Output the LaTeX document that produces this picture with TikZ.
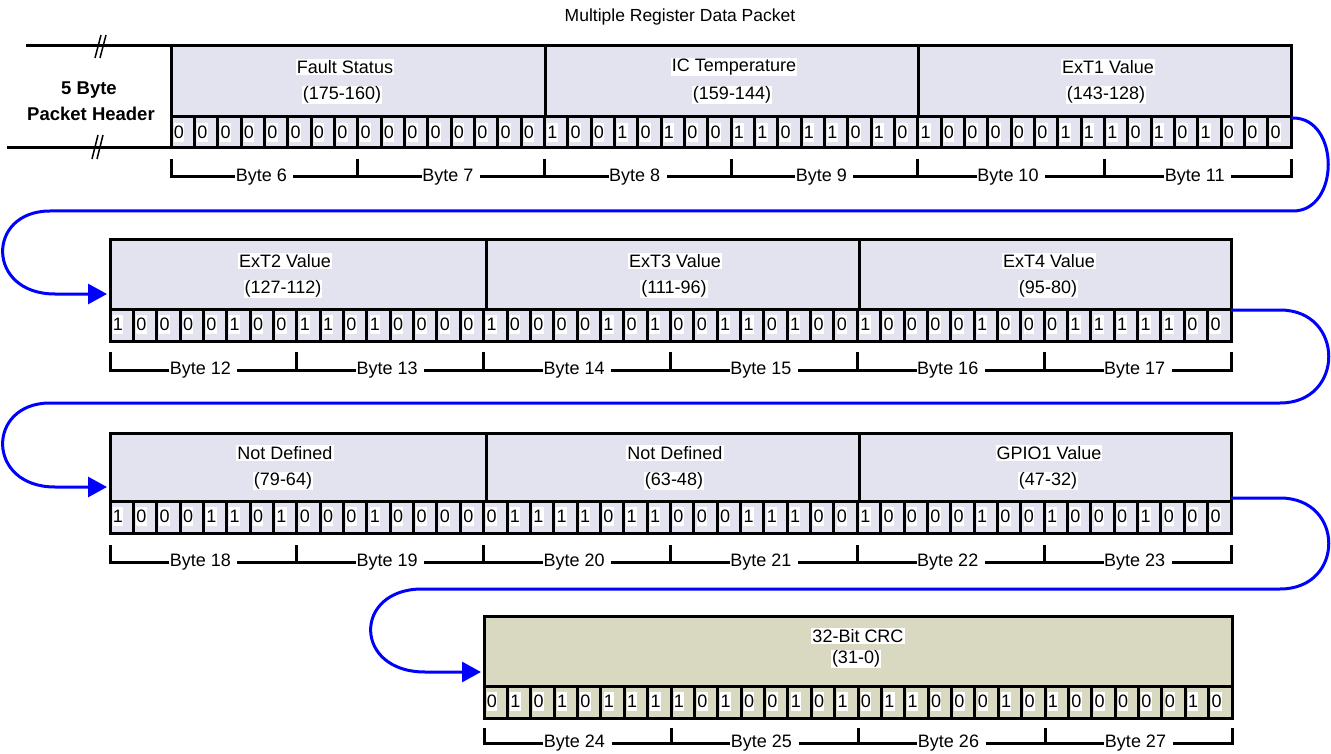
\documentclass[tikz,border=0pt]{standalone}
\usepackage{fontspec}
\setmainfont{Liberation Sans}
\usetikzlibrary{arrows.meta}
\definecolor{lav}{RGB}{227,227,240}
\definecolor{khaki}{RGB}{217,217,194}
\definecolor{cblue}{RGB}{0,0,255}
\tikzset{
  thickline/.style={line width=3pt},
  fieldlbl/.style={fill=white, inner xsep=1pt, inner ysep=1pt, font=\fontsize{18}{20}\selectfont},
  bitlbl/.style={fill=white, inner sep=0pt, minimum width=10.5pt, minimum height=19pt, anchor=west, font=\fontsize{18}{20}\selectfont},
  bytelbl/.style={fill=white, inner xsep=0.5pt, inner ysep=1pt, font=\fontsize{18}{20}\selectfont},
  hdrlbl/.style={font=\bfseries\fontsize{18.5}{21}\selectfont, inner sep=0pt},
  conn/.style={draw=cblue, line width=3pt, -{Triangle[length=19pt,width=20pt]}},
  brk/.style={line width=1.5pt},
}
% #1 name, #2 x0, #3 ymid, #4 cell width, #5 ybot, #6 bits
\newcommand\cellrow[6]{%
  \foreach \b [count=\i from 0] in {#6} {
    \node[bitlbl] (#1-\i) at ({#2+\i*#4+2.5}, {#3+15.5}) {\b};
    \ifnum\i>0 \draw[thickline] ({#2+\i*#4}, #3) -- ({#2+\i*#4}, #5); \fi
  }%
}
% #1 name, #2 x0, #3 byte width, #4 tick top, #5 line y, #6 first byte, #7 number of bytes
\newcommand\brackets[7]{%
  \draw[thickline] (#2,#4) -- (#2,#5) -- ({#2+#7*#3},#5) -- ({#2+#7*#3},#4);
  \foreach \k in {1,...,#7} {
    \ifnum\k<#7 \draw[thickline] ({#2+\k*#3},#4) -- ({#2+\k*#3},#5); \fi
  }
  \foreach \k [evaluate=\k as \n using int(#6+\k-1)] in {1,...,#7}
    \node[bytelbl] (#1-\k) at ({#2+(\k-0.5)*#3}, #5) {Byte \n\kern6pt};
}
\begin{document}
\begin{tikzpicture}[x=1pt, y=-1pt]
\useasboundingbox (0,0) rectangle (1331,754);

\node[font=\fontsize{17.5}{20}\selectfont] (title) at (680,17) {Multiple Register Data Packet};

% ---------- header lines
\draw[thickline] (26,46) -- (171,46);
\draw[thickline] (7,148) -- (171,148);
\draw[brk] (95,58) -- (101,35);
\draw[brk] (100,58) -- (106,35);
\draw[brk] (92,159) -- (98,135);
\draw[brk] (97,159) -- (103,135);
\node[hdrlbl] (h1) at (89,90) {5 Byte};
\node[hdrlbl] (h2) at (91,114) {Packet Header};

% ---------- row 1
\fill[lav] (171,46) rectangle (1291,148);
\node[fieldlbl] (f1a) at (345,67) {Fault Status};
\node[fieldlbl] (f1b) at (342,95) {(175-160)};
\node[fieldlbl] (f2a) at (734,67) {IC Temperature};
\node[fieldlbl] (f2b) at (732,95) {(159-144)};
\node[fieldlbl] (f3a) at (1108,67) {ExT1 Value};
\node[fieldlbl] (f3b) at (1106,95) {(143-128)};
\cellrow{r1}{171}{117}{23.3333}{148}{0,0,0,0,0,0,0,0,0,0,0,0,0,0,0,0,1,0,0,1,0,1,0,0,1,1,0,1,1,0,1,0,1,0,0,0,0,0,1,1,1,0,1,0,1,0,0,0}
\draw[thickline] (171,117) -- (1291,117);
\draw[thickline] (545,46) -- (545,117);
\draw[thickline] (918,46) -- (918,117);
\draw[thickline] (171,46) rectangle (1291,148);
\brackets{y1}{171}{186.6667}{159}{177}{6}{6}
\coordinate (r1out) at (1291,118);

% ---------- row 2
\fill[lav] (110,240) rectangle (1231,341);
\node[fieldlbl] (f4a) at (285,261) {ExT2 Value};
\node[fieldlbl] (f4b) at (283,289) {(127-112)};
\node[fieldlbl] (f5a) at (675,261) {ExT3 Value};
\node[fieldlbl] (f5b) at (674,289) {(111-96)};
\node[fieldlbl] (f6a) at (1049,261) {ExT4 Value};
\node[fieldlbl] (f6b) at (1048,289) {(95-80)};
\cellrow{r2}{110}{309}{23.3542}{341}{1,0,0,0,0,1,0,0,1,1,0,1,0,0,0,0,1,0,0,0,0,1,0,1,0,0,1,1,0,1,0,0,1,0,0,0,0,1,0,0,0,1,1,1,1,1,0,0}
\draw[thickline] (110,309) -- (1231,309);
\draw[thickline] (486,240) -- (486,309);
\draw[thickline] (859,240) -- (859,309);
\draw[thickline] (110,240) rectangle (1231,341);
\brackets{y2}{110}{186.8333}{352}{370}{12}{6}
\coordinate (r2in) at (107,294);
\coordinate (r2out) at (1231,310);

% ---------- row 3
\fill[lav] (110,433) rectangle (1231,533);
\node[fieldlbl] (f7a) at (285,453) {Not Defined};
\node[fieldlbl] (f7b) at (283,481) {(79-64)};
\node[fieldlbl] (f8a) at (675,453) {Not Defined};
\node[fieldlbl] (f8b) at (674,481) {(63-48)};
\node[fieldlbl] (f9a) at (1049,453) {GPIO1 Value};
\node[fieldlbl] (f9b) at (1048,481) {(47-32)};
\cellrow{r3}{110}{501}{23.3542}{533}{1,0,0,0,1,1,0,1,0,0,0,1,0,0,0,0,0,1,1,1,1,0,1,1,0,0,0,1,1,1,0,0,1,0,0,0,0,1,0,0,1,0,0,0,1,0,0,0}
\draw[thickline] (110,501) -- (1231,501);
\draw[thickline] (486,433) -- (486,501);
\draw[thickline] (859,433) -- (859,501);
\draw[thickline] (110,433) rectangle (1231,533);
\brackets{y3}{110}{186.8333}{545}{562}{18}{6}
\coordinate (r3in) at (107,487);
\coordinate (r3out) at (1231,498);

% ---------- row 4 (CRC)
\fill[khaki] (484,616) rectangle (1232,718);
\node[fieldlbl] (f10a) at (858,636) {32-Bit CRC};
\node[fieldlbl] (f10b) at (856,659) {(31-0)};
\cellrow{r4}{484}{686}{23.375}{718}{0,1,0,1,0,1,1,1,1,0,1,0,0,1,0,1,0,1,1,0,0,0,1,0,1,0,0,0,0,0,1,0}
\draw[thickline] (484,686) -- (1232,686);
\draw[thickline] (484,616) rectangle (1232,718);
\brackets{y4}{484}{187}{728}{743}{24}{4}
\coordinate (r4in) at (481,672);

% ---------- connectors
\draw[conn] (r1out) -- (1293,118) .. controls (1340,118) and (1340,211) .. (1293,211)
  -- (50,211) .. controls (-14,211) and (-14,294) .. (55,294) -- (r2in);
\draw[conn] (r2out) -- (1280,310) .. controls (1345,310) and (1345,403) .. (1280,403)
  -- (50,403) .. controls (-14,403) and (-14,487) .. (55,487) -- (r3in);
\draw[conn] (r3out) -- (1280,498) .. controls (1345,498) and (1345,589) .. (1280,589)
  -- (422,589) .. controls (353,589) and (353,672) .. (425,672) -- (r4in);
\end{tikzpicture}
\end{document}
